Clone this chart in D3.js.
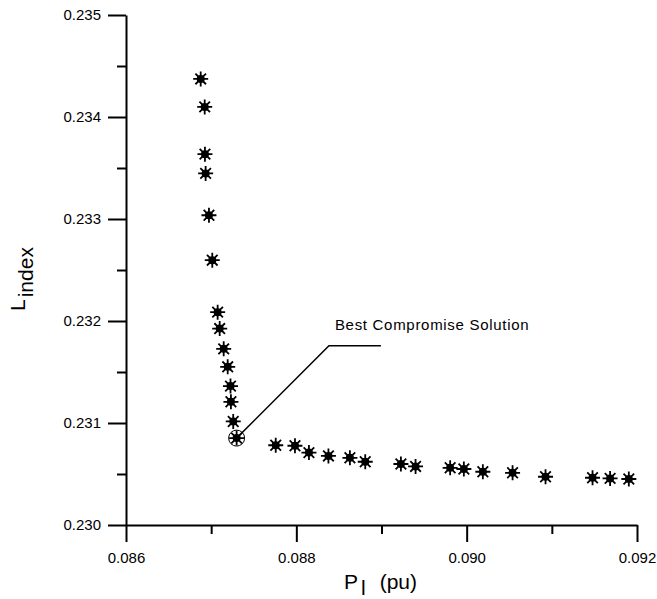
<!DOCTYPE html>
<html>
<head>
<meta charset="utf-8">
<script src="https://cdn.jsdelivr.net/npm/d3@7/dist/d3.min.js"></script>
<style>
  html, body { margin: 0; padding: 0; background: #fff; }
  svg { display: block; }
  text { font-family: "Liberation Sans", Arial, sans-serif; fill: #000; }
</style>
</head>
<body>
<svg id="chart" width="657" height="599"></svg>
<script>
// Pareto front: power loss P_l (pu) against voltage stability index L_index
const lossPu = [
  0.086877, 0.086924, 0.086927, 0.086935, 0.086974, 0.087013, 0.087076, 0.087100,
  0.087147, 0.087194, 0.087227, 0.087232, 0.087259, 0.087299, 0.087758, 0.087984,
  0.088148, 0.088377, 0.088629, 0.088809, 0.089228, 0.089400, 0.089806, 0.089967,
  0.090190, 0.090539, 0.090926, 0.091478, 0.091684, 0.091904
];
const lIndex = [
  0.234373, 0.234099, 0.233636, 0.233447, 0.233037, 0.232596, 0.232087, 0.231926,
  0.231727, 0.231551, 0.231362, 0.231208, 0.231015, 0.230852, 0.230782, 0.230777,
  0.230710, 0.230677, 0.230659, 0.230620, 0.230598, 0.230574, 0.230561, 0.230549,
  0.230522, 0.230512, 0.230473, 0.230463, 0.230457, 0.230451
];
const bestIndex = 13;

const xMajorTicks = [0.086, 0.088, 0.090, 0.092];
const xMinorTicks = [0.087, 0.089, 0.091];
const yMajorTicks = [0.230, 0.231, 0.232, 0.233, 0.234, 0.235];
const yMinorTicks = [0.2305, 0.2315, 0.2325, 0.2335, 0.2345];

const annotationText = "Best Compromise Solution";
// leader elbow / end and text anchor, in data units
const leaderElbow = [0.088383, 0.231757];
const leaderEnd = [0.088993, 0.231757];
const labelAnchor = [0.088453, 0.231914];

const width = 657, height = 599;
const margin = { top: 15, right: 20, bottom: 74, left: 126 };

const svg = d3.select("#chart");

const x = d3.scaleLinear().domain([0.086, 0.092]).range([margin.left, width - margin.right]);
const y = d3.scaleLinear().domain([0.230, 0.235]).range([height - margin.bottom, margin.top]);

const fmt = d3.format(".3f");

// X axis: major ticks labelled, minor ticks shorter
const xAxis = svg.append("g")
  .attr("transform", `translate(0,${y(0.230)})`)
  .call(d3.axisBottom(x).tickValues(xMajorTicks).tickFormat(fmt).tickSize(17).tickSizeOuter(0).tickPadding(10));
xAxis.append("g").call(d3.axisBottom(x).tickValues(xMinorTicks).tickFormat("").tickSize(9).tickSizeOuter(0))
  .select(".domain").remove();

// Y axis
const yAxis = svg.append("g")
  .attr("transform", `translate(${x(0.086)},0)`)
  .call(d3.axisLeft(y).tickValues(yMajorTicks).tickFormat(fmt).tickSize(18).tickSizeOuter(0).tickPadding(7));
yAxis.append("g").call(d3.axisLeft(y).tickValues(yMinorTicks).tickFormat("").tickSize(9).tickSizeOuter(0))
  .select(".domain").remove();

svg.selectAll(".domain, .tick line").attr("stroke", "#000").attr("stroke-width", 2);
svg.selectAll(".tick text").style("font-size", "15px").style("font-family", "'Liberation Sans', Arial, sans-serif").attr("fill", "#000");

// Axis titles with subscripts
svg.append("text")
  .attr("x", 344).attr("y", 589)
  .style("font-size", "21px")
  .call(t => {
    t.append("tspan").text("P");
    t.append("tspan").attr("dy", 6).attr("dx", 3).text("l");
    t.append("tspan").attr("dy", -6).attr("dx", 14).text("(pu)");
  });

svg.append("text")
  .attr("transform", "translate(25,311) rotate(-90)")
  .style("font-size", "21px")
  .call(t => {
    t.append("tspan").text("L");
    t.append("tspan").attr("dy", 8).attr("dx", 2).text("index");
  });

// Leader to the best compromise point
const best = [lossPu[bestIndex], lIndex[bestIndex]];
svg.append("polyline")
  .attr("points", [best, leaderElbow, leaderEnd].map(p => `${x(p[0])},${y(p[1])}`).join(" "))
  .attr("fill", "none").attr("stroke", "#000").attr("stroke-width", 1.5);

svg.append("text")
  .attr("x", x(labelAnchor[0])).attr("y", y(labelAnchor[1]))
  .style("font-size", "15px")
  .style("letter-spacing", "0.7px")
  .text(annotationText);

// Asterisk markers
const points = lossPu.map((v, i) => ({ x: v, y: lIndex[i] }));
const arm = 7.5;
const starPath = d3.range(4).map(k => {
  const a = k * Math.PI / 4;
  const dx = arm * Math.cos(a), dy = arm * Math.sin(a);
  return `M${-dx},${-dy}L${dx},${dy}`;
}).join("");

const marks = svg.append("g").selectAll("g").data(points).join("g")
  .attr("transform", d => `translate(${x(d.x)},${y(d.y)})`);
marks.append("path").attr("d", starPath).attr("stroke", "#000").attr("stroke-width", 1.8);
marks.append("circle").attr("r", 4).attr("fill", "#000");

svg.append("circle")
  .attr("cx", x(best[0])).attr("cy", y(best[1])).attr("r", 8)
  .attr("fill", "none").attr("stroke", "#000").attr("stroke-width", 1);
</script>
</body>
</html>
